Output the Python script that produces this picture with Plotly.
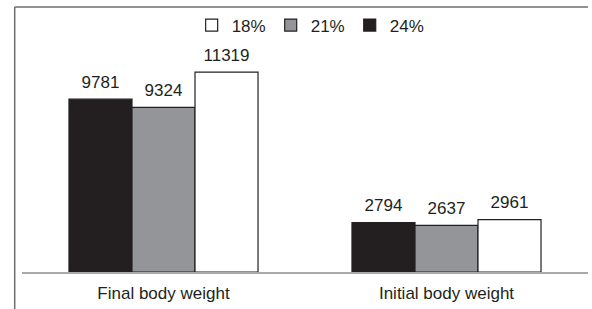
import plotly.graph_objects as go

categories = ["Final body weight", "Initial body weight"]
series_names = ["24%", "21%", "18%"]
values_24 = [9781, 2794]
values_21 = [9324, 2637]
values_18 = [11319, 2961]
series_values = [values_24, values_21, values_18]
series_colors = ["#231f20", "#939598", "#ffffff"]

FONT = "Liberation Sans, Arial, sans-serif"
FS = 17
GAP = 0.332

fig = go.Figure()
for name, vals, col in zip(series_names, series_values, series_colors):
    fig.add_trace(go.Bar(
        name=name, x=categories, y=vals,
        marker=dict(color=col, line=dict(color="#231f20", width=1.2)),
        hoverinfo="x+y+name",
    ))
# value labels, grouped the same way as the bars
for name, vals in zip(series_names, series_values):
    fig.add_trace(go.Scatter(
        name=name, x=categories, y=vals, mode="markers+text",
        text=[str(v) for v in vals], textposition="top center",
        textfont=dict(family=FONT, size=FS, color="#231f20"),
        marker=dict(size=10, opacity=0), showlegend=False,
        hoverinfo="skip", cliponaxis=False,
    ))

fig.update_layout(
    width=592, height=309,
    margin=dict(l=22, r=4, t=7, b=37),
    paper_bgcolor="white", plot_bgcolor="white",
    barmode="group", bargap=GAP, bargroupgap=0,
    scattermode="group", scattergap=GAP,
    font=dict(family=FONT, size=FS, color="#231f20"),
    showlegend=True,
    legend=dict(orientation="h", traceorder="reversed",
                x=0.51, xanchor="center", y=0.93, yanchor="middle",
                font=dict(family=FONT, size=FS, color="#231f20"),
                bgcolor="rgba(0,0,0,0)", itemwidth=30),
    xaxis=dict(range=[-0.5, 1.5], showline=True, linecolor="#a7a9ac", linewidth=1.5,
               ticks="", showgrid=False, zeroline=False, ticklabelstandoff=5,
               tickfont=dict(family=FONT, size=FS, color="#231f20")),
    yaxis=dict(range=[0, 15000], visible=False, showgrid=False, zeroline=False),
    shapes=[
        dict(type="line", xref="paper", yref="paper",
             x0=(14.7 - 22) / 566, x1=1.0, y0=1.0, y1=1.0,
             line=dict(color="#6d6e71", width=1.5)),
        dict(type="line", xref="paper", yref="paper",
             x0=(14.7 - 22) / 566, x1=(14.7 - 22) / 566, y0=1.0, y1=-0.15,
             line=dict(color="#6d6e71", width=1.5)),
    ],
)

fig.write_html("out.html", config={"displayModeBar": False},
               post_script="document.body.style.margin='0';")
